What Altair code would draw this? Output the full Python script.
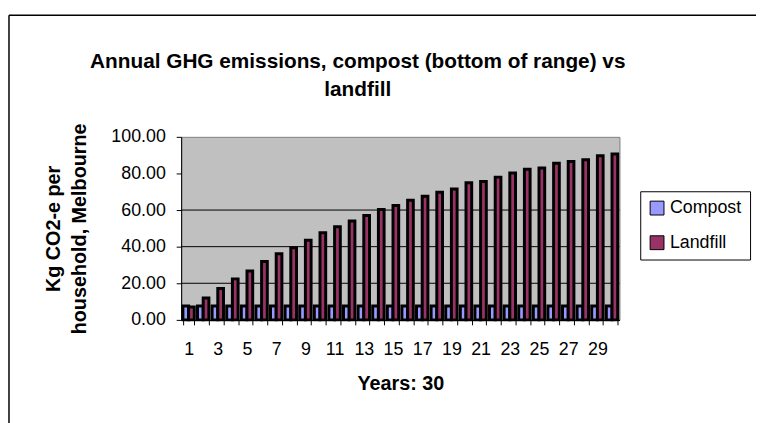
import altair as alt
import pandas as pd

years = [1, 2, 3, 4, 5, 6, 7, 8, 9, 10, 11, 12, 13, 14, 15,
         16, 17, 18, 19, 20, 21, 22, 23, 24, 25, 26, 27, 28, 29, 30]
compost = [7.6, 7.6, 7.6, 7.6, 7.6, 7.6, 7.6, 7.6, 7.6, 7.6,
           7.6, 7.6, 7.6, 7.6, 7.6, 7.6, 7.6, 7.6, 7.6, 7.6,
           7.6, 7.6, 7.6, 7.6, 7.6, 7.6, 7.6, 7.6, 7.6, 7.6]
landfill = [7.0, 11.9, 17.2, 22.4, 26.7, 31.9, 36.1, 39.4, 43.5, 47.6,
            50.9, 54.0, 57.0, 60.3, 62.5, 65.3, 67.5, 69.7, 71.5, 74.9,
            75.6, 78.0, 80.2, 82.3, 83.0, 85.6, 86.5, 87.5, 89.7, 90.6]
series_names = ["Compost", "Landfill"]
series_colors = ["#9999FF", "#993366"]
y_ticks = [0, 20, 40, 60, 80, 100]
grid_values = [20, 40, 60]

rows = []
for yr, c, l in zip(years, compost, landfill):
    rows.append({"year": yr, "series": "Compost", "value": c})
    rows.append({"year": yr, "series": "Landfill", "value": l})
df = pd.DataFrame(rows)

FONT = "Liberation Sans"

y_axis = alt.Axis(
    title=["Kg CO2-e per", "household, Melbourne"],
    values=y_ticks,
    format=".2f",
    grid=False,
    tickSize=5,
    tickColor="black",
    domainColor="black",
    labelFont=FONT,
    labelFontSize=18,
    labelColor="black",
    labelPadding=11,
    titleFont=FONT,
    titleFontSize=20,
    titleFontWeight="bold",
    titleColor="black",
    titleAngle=-90,
    titleX=-129,
    titleY=92.5,
    titleAlign="center",
    titleBaseline="middle",
    titleLineHeight=26,
)
y_scale = alt.Scale(domain=[0, 100])

grid = alt.Chart(pd.DataFrame({"value": grid_values})).mark_rule(
    color="black", strokeWidth=1
).encode(y=alt.Y("value:Q", axis=y_axis, scale=y_scale))

bars = alt.Chart(df).mark_bar(stroke="black", strokeWidth=3).encode(
    x=alt.X(
        "year:O",
        scale=alt.Scale(paddingInner=0.22, paddingOuter=0.12),
        axis=alt.Axis(
            title="Years: 30",
            labelAngle=0,
            labelExpr="datum.value % 2 == 1 ? datum.label : ''",
            tickBand="extent",
            tickSize=5,
            tickColor="black",
            domainColor="black",
            domainWidth=1.5,
            labelFont=FONT,
            labelFontSize=18,
            labelColor="black",
            labelPadding=16,
            titleFont=FONT,
            titleFontSize=20,
            titleFontWeight="bold",
            titleColor="black",
            titleY=70,
            titleBaseline="alphabetic",
        ),
    ),
    xOffset=alt.XOffset("series:N", sort=series_names,
                        scale=alt.Scale(paddingInner=0, paddingOuter=0)),
    y=alt.Y("value:Q", axis=y_axis, scale=y_scale),
    color=alt.Color(
        "series:N",
        scale=alt.Scale(domain=series_names, range=series_colors),
        legend=alt.Legend(
            title=None,
            orient="none",
            legendX=464,
            legendY=55,
            symbolType="square",
            symbolSize=196,
            symbolStrokeColor="black",
            symbolStrokeWidth=1,
            symbolOpacity=1,
            labelFont=FONT,
            labelFontSize=18,
            labelColor="black",
            labelOffset=4,
            rowPadding=17,
            strokeColor="black",
            fillColor="white",
            padding=8,
        ),
    ),
)

frame_df = pd.DataFrame({"k": [0]})
left_line = alt.Chart(frame_df).mark_rule(color="black", strokeWidth=1.5).encode(
    x=alt.value(-174), y=alt.value(-123), y2=alt.value(320)
)
top_line = alt.Chart(frame_df).mark_rule(color="black", strokeWidth=1.5).encode(
    x=alt.value(-174), x2=alt.value(620), y=alt.value(-123)
)

chart = alt.layer(grid, bars, left_line, top_line).properties(
    width=443,
    height=185,
    title=alt.TitleParams(
        text=["Annual GHG emissions, compost (bottom of range) vs", "landfill"],
        font=FONT,
        fontSize=21,
        fontWeight="bold",
        color="black",
        lineHeight=28,
        anchor="middle",
        dx=-43,
        dy=86,
        offset=0,
    ),
    padding={"left": 175, "top": 128, "right": 138, "bottom": 102},
    autosize=alt.AutoSizeParams(type="none"),
    background="white",
).configure_view(stroke="#808080", fill="#C0C0C0")

chart.save("out.html", embed_options={"renderer": "svg", "actions": False})
